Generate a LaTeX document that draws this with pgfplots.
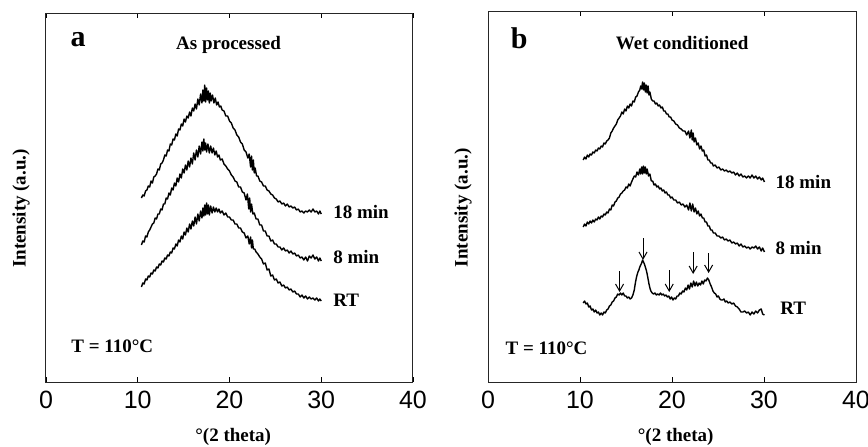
\documentclass[border=0pt]{standalone}
\usepackage{fontspec}
\setmainfont{Liberation Serif}
\newfontfamily\sansf{Liberation Sans}
\usepackage{pgfplots}
\pgfplotsset{compat=1.18}
\usetikzlibrary{arrows.meta}

\newcommand\lab{\bfseries\fontsize{9.5}{11}\selectfont}
\newcommand\panelfont{\bfseries\fontsize{15}{16}\selectfont}

\pgfplotsset{
  xrd/.style={
    scale only axis,
    xmin=0, xmax=40, ymin=0,
    xtick={0,10,20,30,40},
    ytick=\empty,
    tick align=inside,
    major tick length=2.5pt,
    tick style={line width=0.4pt, black},
    axis line style={line width=0.5pt, black!85},
    /pgf/number format/assume math mode=true,
    tick label style={font=\sansf\fontsize{12.5}{13}\selectfont},
    xticklabel style={yshift=-1pt},
    every axis x label/.style={at={(axis description cs:0.51,0)}, yshift=-27.5pt, anchor=center, font=\lab},
    every axis y label/.style={at={(axis description cs:-0.068,0.47)}, rotate=90, anchor=center, font=\lab},
    xlabel={°(2 theta)},
    ylabel={Intensity (a.u.)},
    clip=false,
  },
  trace/.style={black, line width=0.7pt, no markers, line join=round},
}

\begin{document}
\begin{tikzpicture}
\useasboundingbox (0,0) rectangle (434pt,223pt);

% ---- panel a: as processed
\begin{axis}[xrd, at={(23pt,32pt)}, anchor=south west,
  width=183.5pt, height=184.5pt, ymax=369]
% 18 min
\addplot[trace] coordinates {(10.40,184)(10.55,187)(10.70,186)(10.85,191)(11.00,192)(11.15,196)(11.30,195)(11.45,201)(11.60,199)(11.75,205)(11.90,206)(12.05,208)(12.20,213)(12.35,212)(12.50,218)(12.65,219)(12.80,222)(12.95,227)(13.10,226)(13.25,232)(13.40,231)(13.55,238)(13.70,237)(13.85,243)(14.00,242)(14.15,248)(14.30,246)(14.45,253)(14.60,252)(14.75,258)(14.90,256)(15.05,263)(15.20,260)(15.35,266)(15.50,264)(15.65,270)(15.80,266)(15.95,274)(16.10,271)(16.25,278)(16.40,273)(16.55,283)(16.70,277)(16.85,288)(17.00,279)(17.10,292)(17.20,281)(17.30,297)(17.40,280)(17.50,294)(17.60,282)(17.70,291)(17.80,279)(17.90,289)(18.00,281)(18.15,287)(18.30,279)(18.45,284)(18.60,277)(18.75,280)(18.90,275)(19.05,276)(19.20,272)(19.40,271)(19.60,266)(19.80,266)(20.00,261)(20.20,259)(20.40,254)(20.60,252)(20.80,247)(21.00,245)(21.20,240)(21.40,238)(21.60,232)(21.80,230)(22.00,224)(22.15,228)(22.30,215)(22.40,226)(22.50,212)(22.60,222)(22.70,209)(22.80,214)(22.95,206)(23.10,206)(23.30,201)(23.50,200)(23.70,196)(23.90,196)(24.10,192)(24.30,191)(24.50,188)(24.70,187)(24.90,184)(25.10,183)(25.30,180)(25.50,181)(25.70,178)(25.90,179)(26.10,176)(26.30,178)(26.50,175)(26.70,176)(26.90,174)(27.10,175)(27.30,172)(27.50,173)(27.70,170)(27.90,171)(28.10,169)(28.30,171)(28.50,170)(28.70,172)(28.90,170)(29.10,173)(29.30,170)(29.50,171)(29.70,168)(29.85,171)(30.00,168)};
% 8 min
\addplot[trace] coordinates {(10.40,137)(10.55,141)(10.70,140)(10.85,146)(11.00,145)(11.15,150)(11.30,152)(11.45,155)(11.60,158)(11.75,159)(11.90,164)(12.05,163)(12.20,168)(12.35,168)(12.50,173)(12.65,172)(12.80,178)(12.95,178)(13.10,184)(13.25,183)(13.40,189)(13.55,187)(13.70,194)(13.85,192)(14.00,199)(14.15,196)(14.30,204)(14.45,200)(14.60,208)(14.75,204)(14.90,213)(15.05,209)(15.20,217)(15.35,212)(15.50,221)(15.65,215)(15.80,224)(15.95,218)(16.10,229)(16.25,222)(16.40,232)(16.55,225)(16.70,236)(16.85,228)(17.00,240)(17.10,231)(17.20,243)(17.30,232)(17.40,239)(17.50,230)(17.65,238)(17.80,229)(17.95,236)(18.10,229)(18.25,234)(18.40,227)(18.55,231)(18.70,225)(18.85,227)(19.00,222)(19.20,223)(19.40,218)(19.60,216)(19.80,213)(20.00,211)(20.20,207)(20.40,205)(20.60,201)(20.80,200)(21.00,195)(21.20,195)(21.40,190)(21.60,189)(21.80,182)(21.95,188)(22.10,173)(22.20,184)(22.30,170)(22.40,178)(22.55,168)(22.70,169)(22.90,163)(23.10,163)(23.30,157)(23.50,157)(23.70,151)(23.90,151)(24.10,146)(24.30,146)(24.50,141)(24.70,142)(24.90,138)(25.10,138)(25.30,135)(25.50,135)(25.70,132)(25.90,134)(26.10,131)(26.30,132)(26.50,129)(26.70,131)(26.90,128)(27.10,129)(27.30,126)(27.50,127)(27.70,124)(27.90,125)(28.10,122)(28.30,125)(28.50,121)(28.70,126)(28.90,124)(29.10,127)(29.30,123)(29.50,125)(29.70,121)(29.85,124)(30.00,121)};
% RT
\addplot[trace] coordinates {(10.40,95)(10.55,99)(10.70,98)(10.85,103)(11.00,102)(11.15,106)(11.30,105)(11.45,109)(11.60,108)(11.75,112)(11.90,111)(12.05,115)(12.20,114)(12.35,118)(12.50,117)(12.65,121)(12.80,120)(12.95,124)(13.10,123)(13.25,127)(13.40,126)(13.55,130)(13.70,129)(13.85,134)(14.00,133)(14.15,138)(14.30,136)(14.45,142)(14.60,140)(14.75,146)(14.90,143)(15.05,150)(15.20,147)(15.35,154)(15.50,150)(15.65,158)(15.80,153)(15.95,161)(16.10,156)(16.25,165)(16.40,158)(16.55,168)(16.70,161)(16.85,171)(17.00,164)(17.10,174)(17.20,166)(17.30,177)(17.40,167)(17.50,179)(17.60,168)(17.70,177)(17.80,167)(17.95,176)(18.10,169)(18.25,175)(18.40,170)(18.55,174)(18.70,170)(18.85,173)(19.00,169)(19.20,171)(19.40,167)(19.60,169)(19.80,165)(20.00,165)(20.20,162)(20.40,162)(20.60,158)(20.80,158)(21.00,154)(21.20,154)(21.40,150)(21.60,149)(21.80,144)(22.00,146)(22.15,138)(22.30,145)(22.40,134)(22.50,142)(22.60,133)(22.75,133)(22.90,130)(23.10,128)(23.30,125)(23.50,123)(23.70,118)(23.90,119)(24.10,112)(24.30,113)(24.50,106)(24.70,107)(24.90,102)(25.10,103)(25.30,99)(25.50,100)(25.70,96)(25.90,97)(26.10,94)(26.30,95)(26.50,92)(26.70,93)(26.90,90)(27.10,91)(27.30,88)(27.50,88)(27.70,85)(27.90,87)(28.10,84)(28.30,86)(28.50,83)(28.70,85)(28.90,83)(29.10,84)(29.30,82)(29.50,84)(29.70,81)(29.85,83)(30.00,81)};
\node[font=\panelfont] at (axis cs:3.5,342) {a};
\node[font=\lab] at (axis cs:19.9,337) {As processed};
\node[font=\lab, anchor=west] at (axis cs:30.55,170.3) {18 min};
\node[font=\lab, anchor=west] at (axis cs:30.55,125.3) {8 min};
\node[font=\lab, anchor=west] at (axis cs:30.55,82) {RT};
\node[font=\lab, anchor=west] at (axis cs:2.0,35.3) {T = 110°C};
\end{axis}

% ---- panel b: wet conditioned
\begin{axis}[xrd, at={(244pt,32pt)}, anchor=south west,
  width=184pt, height=185.5pt, ymax=371]
% 18 min
\addplot[trace] coordinates {(10.35,222)(10.50,225)(10.65,223)(10.80,227)(10.95,225)(11.10,228)(11.25,227)(11.40,230)(11.55,229)(11.70,232)(11.85,231)(12.00,234)(12.15,233)(12.30,236)(12.45,235)(12.60,239)(12.75,238)(12.90,241)(13.05,242)(13.20,244)(13.35,249)(13.50,251)(13.65,254)(13.80,256)(13.95,258)(14.10,262)(14.25,264)(14.40,266)(14.55,270)(14.70,268)(14.85,273)(15.00,271)(15.15,276)(15.30,274)(15.45,278)(15.60,276)(15.75,281)(15.90,280)(16.05,285)(16.20,286)(16.35,290)(16.50,292)(16.60,296)(16.70,293)(16.80,300)(16.90,292)(17.00,299)(17.10,290)(17.20,297)(17.30,289)(17.40,296)(17.50,287)(17.60,290)(17.75,283)(17.90,281)(18.05,281)(18.20,278)(18.35,279)(18.50,276)(18.65,277)(18.80,274)(18.95,275)(19.10,271)(19.25,271)(19.40,268)(19.55,268)(19.70,265)(19.85,265)(20.00,262)(20.20,261)(20.40,258)(20.60,257)(20.80,254)(21.00,253)(21.20,251)(21.40,251)(21.60,247)(21.80,251)(21.95,244)(22.10,252)(22.20,242)(22.30,249)(22.40,240)(22.55,244)(22.70,237)(22.85,239)(23.00,233)(23.15,236)(23.30,231)(23.45,232)(23.60,226)(23.75,227)(23.90,222)(24.05,222)(24.20,219)(24.35,219)(24.50,216)(24.70,217)(24.90,214)(25.10,215)(25.30,212)(25.50,213)(25.70,211)(25.90,212)(26.10,210)(26.30,211)(26.50,209)(26.70,210)(26.90,207)(27.10,209)(27.30,206)(27.50,208)(27.70,205)(27.90,206)(28.10,204)(28.30,206)(28.50,204)(28.70,207)(28.90,204)(29.10,206)(29.30,203)(29.50,205)(29.70,202)(29.85,204)(30.05,200)};
% 8 min
\addplot[trace] coordinates {(10.35,155)(10.50,158)(10.65,156)(10.80,160)(10.95,158)(11.10,161)(11.25,159)(11.40,162)(11.55,160)(11.70,163)(11.85,162)(12.00,165)(12.15,163)(12.30,166)(12.45,165)(12.60,168)(12.75,167)(12.90,170)(13.05,169)(13.20,173)(13.35,172)(13.50,177)(13.65,176)(13.80,180)(13.95,181)(14.10,184)(14.25,185)(14.40,188)(14.55,189)(14.70,191)(14.85,192)(15.00,195)(15.15,194)(15.30,198)(15.45,196)(15.60,200)(15.75,203)(15.90,206)(16.05,205)(16.20,210)(16.35,207)(16.50,213)(16.60,208)(16.70,215)(16.80,208)(16.90,216)(17.00,209)(17.10,215)(17.20,208)(17.30,213)(17.45,206)(17.60,208)(17.75,201)(17.90,201)(18.05,197)(18.20,198)(18.35,195)(18.50,196)(18.65,193)(18.80,194)(18.95,191)(19.10,192)(19.25,189)(19.40,190)(19.55,187)(19.70,187)(19.85,184)(20.00,185)(20.20,182)(20.40,182)(20.60,179)(20.80,180)(21.00,177)(21.20,178)(21.40,175)(21.60,177)(21.80,172)(21.95,179)(22.10,171)(22.25,178)(22.40,170)(22.55,174)(22.70,168)(22.85,171)(23.00,166)(23.15,168)(23.30,164)(23.45,164)(23.60,160)(23.75,160)(23.90,156)(24.05,156)(24.20,152)(24.35,152)(24.50,149)(24.70,149)(24.90,146)(25.10,146)(25.30,144)(25.50,145)(25.70,142)(25.90,143)(26.10,141)(26.30,142)(26.50,139)(26.70,140)(26.90,138)(27.10,139)(27.30,136)(27.50,138)(27.70,135)(27.90,136)(28.10,134)(28.30,135)(28.50,133)(28.70,135)(28.90,134)(29.10,136)(29.30,133)(29.50,135)(29.70,131)(29.85,134)(30.05,130)};
% RT
\addplot[trace] coordinates {(10.35,79)(10.50,81)(10.65,78)(10.80,79)(10.95,75)(11.10,76)(11.25,72)(11.40,73)(11.55,70)(11.70,72)(11.85,69)(12.00,70)(12.15,67)(12.30,69)(12.45,67)(12.60,70)(12.75,69)(12.90,72)(13.05,73)(13.20,76)(13.35,77)(13.50,80)(13.65,81)(13.80,84)(13.95,85)(14.10,88)(14.25,87)(14.40,89)(14.55,87)(14.70,89)(14.85,86)(15.00,86)(15.15,84)(15.30,85)(15.45,83)(15.60,84)(15.75,87)(15.90,92)(16.00,98)(16.10,103)(16.20,107)(16.30,110)(16.40,112)(16.50,115)(16.60,117)(16.70,119)(16.80,122)(16.90,120)(17.00,118)(17.10,115)(17.20,112)(17.30,108)(17.40,103)(17.50,98)(17.60,94)(17.70,91)(17.85,89)(18.00,88)(18.15,89)(18.30,87)(18.45,88)(18.60,87)(18.75,89)(18.90,87)(19.05,88)(19.20,86)(19.35,87)(19.50,85)(19.65,86)(19.80,83)(19.95,85)(20.10,82)(20.25,84)(20.40,83)(20.55,86)(20.70,86)(20.85,89)(21.00,88)(21.15,91)(21.30,90)(21.45,94)(21.60,92)(21.75,97)(21.90,93)(22.05,99)(22.20,95)(22.35,101)(22.50,96)(22.65,100)(22.80,96)(22.95,99)(23.10,97)(23.25,101)(23.40,98)(23.55,102)(23.70,101)(23.85,104)(24.00,102)(24.15,98)(24.30,95)(24.45,91)(24.60,89)(24.75,88)(24.90,85)(25.05,86)(25.20,83)(25.35,82)(25.50,82)(25.65,83)(25.80,80)(25.95,81)(26.10,79)(26.30,80)(26.50,78)(26.70,79)(26.90,76)(27.10,75)(27.30,73)(27.50,70)(27.70,70)(27.90,71)(28.10,69)(28.30,70)(28.50,67)(28.70,70)(28.90,68)(29.10,71)(29.30,69)(29.50,72)(29.70,73)(29.85,68)(30.05,67)};
\draw[-{Straight Barb[length=3.5pt,width=4pt]}, line width=0.5pt] (axis cs:14.30,111) -- (axis cs:14.30,90);
\draw[-{Straight Barb[length=3.5pt,width=4pt]}, line width=0.5pt] (axis cs:16.85,144) -- (axis cs:16.85,122);
\draw[-{Straight Barb[length=3.5pt,width=4pt]}, line width=0.5pt] (axis cs:19.70,112) -- (axis cs:19.70,90);
\draw[-{Straight Barb[length=3.5pt,width=4pt]}, line width=0.5pt] (axis cs:22.30,130) -- (axis cs:22.30,108);
\draw[-{Straight Barb[length=3.5pt,width=4pt]}, line width=0.5pt] (axis cs:23.98,129) -- (axis cs:23.98,109);
\node[font=\panelfont] at (axis cs:3.4,343.7) {b};
\node[font=\lab] at (axis cs:21.1,338.7) {Wet conditioned};
\node[font=\lab, anchor=west] at (axis cs:30.5,200.3) {18 min};
\node[font=\lab, anchor=west] at (axis cs:30.5,133.7) {8 min};
\node[font=\lab, anchor=west] at (axis cs:31.0,73.7) {RT};
\node[font=\lab, anchor=west] at (axis cs:1.15,33.7) {T = 110°C};
\end{axis}
\end{tikzpicture}
\end{document}
